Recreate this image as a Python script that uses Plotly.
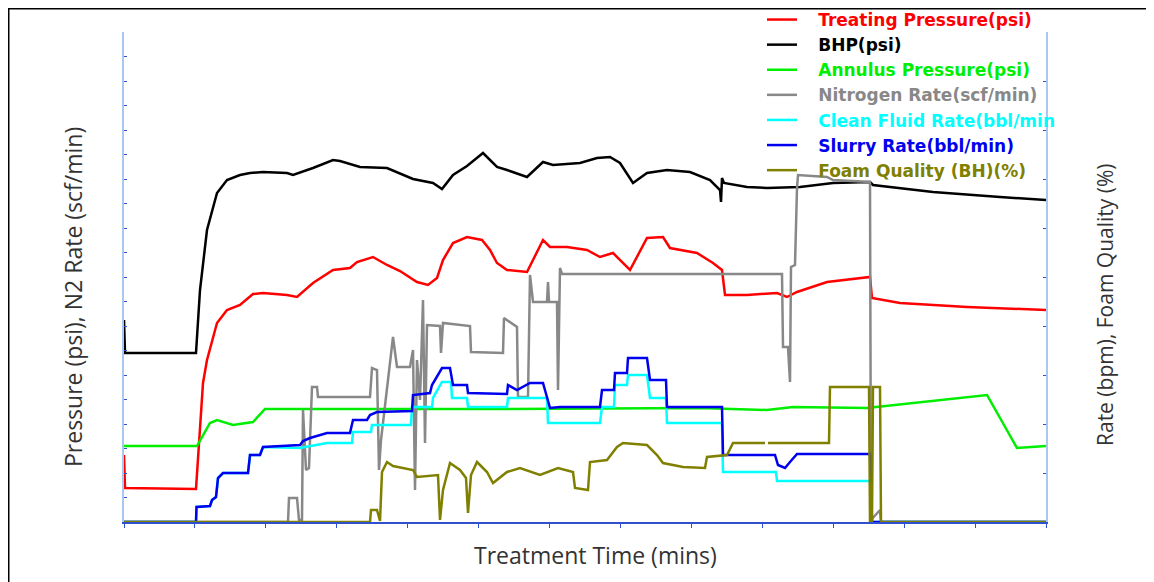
import plotly.graph_objects as go

# ---- time axis (minutes) ----
bhp_t = [0, 0.1, 7.2, 7.6, 8.3, 9.3, 10.3, 11.6, 12.6, 13.9, 16.3, 16.9, 18.9, 20.9, 21.6, 23.6, 26.3, 28.9, 30.9, 31.8,
         32.9, 34.3, 35.9, 36.6, 37.3, 38.3, 40.3, 41.9, 42.9, 45.6, 47.3, 48.6, 49.6, 50.9, 52.3, 54.3, 56.6, 58.6,
         59.6, 59.7, 59.8, 60.0, 62.3, 64.3, 67.6, 70.9, 74.6, 74.9, 80.9, 87.6, 92.2]
bhp_p = [2020, 1690, 1690, 2320, 2920, 3290, 3420, 3470, 3490, 3500, 3490, 3470, 3540, 3620, 3610, 3550, 3540, 3430, 3390, 3330,
         3470, 3560, 3690, 3620, 3550, 3520, 3450, 3600, 3570, 3590, 3640, 3650, 3590, 3390, 3490, 3520, 3500, 3420,
         3320, 3200, 3440, 3390, 3350, 3340, 3350, 3390, 3400, 3370, 3300, 3250, 3220]

tp_t = [0, 0.1, 7.2, 7.4, 7.9, 8.3, 9.3, 10.3, 11.6, 12.9, 13.9, 16.3, 17.3, 18.9, 20.9, 22.6, 23.3, 24.9, 26.3, 27.6,
        29.3, 30.4, 31.3, 31.9, 32.9, 34.3, 35.8, 36.6, 37.3, 38.3, 40.3, 41.9, 42.6, 44.3, 46.3, 47.6, 48.9, 50.6,
        52.3, 53.9, 54.6, 57.3, 58.9, 59.8, 60.1, 62.3, 65.3, 66.3, 67.3, 70.3, 74.6, 74.8, 77.6, 84.3, 92.2]
tp_p = [670, 340, 330, 650, 1390, 1620, 1990, 2120, 2170, 2280, 2290, 2270, 2250, 2390, 2520, 2540, 2600, 2650, 2570, 2510,
        2400, 2370, 2440, 2620, 2790, 2850, 2820, 2720, 2590, 2520, 2500, 2820, 2750, 2750, 2720, 2650, 2690, 2520,
        2840, 2850, 2740, 2690, 2590, 2520, 2270, 2270, 2290, 2250, 2300, 2400, 2450, 2240, 2190, 2150, 2120]

ann_t = [0, 7.3, 8.6, 9.3, 10.9, 12.9, 14.1, 37.6, 57.6, 64.3, 66.9, 74.3, 86.3, 89.3, 92.2]
ann_p = [760, 760, 990, 1020, 970, 1000, 1130, 1130, 1140, 1120, 1150, 1140, 1270, 740, 760]

n2_t = [0, 16.4, 16.5, 17.3, 17.5, 17.8, 17.9, 18.2, 18.5, 18.8, 19.3, 19.4, 24.6, 24.8, 25.3, 25.5, 25.7, 26.9,
        27.3, 28.6, 28.9, 29.1, 29.3, 29.6, 29.9, 30.1, 30.3, 31.6, 31.7, 31.9, 34.6, 34.7, 37.9, 38.0, 39.3, 39.4,
        40.4, 40.6, 40.9, 42.3, 42.4, 42.5, 43.3, 43.4, 43.6, 43.8, 65.8, 65.9, 66.4, 66.6, 66.7, 67.1, 67.3, 67.4,
        70.3, 70.9, 74.6, 74.7, 75.6, 75.7, 92.2]
n2_r = [0, 0, 240, 240, 20, 20, 1120, 520, 540, 1350, 1350, 1250, 1250, 1540, 1520, 520, 820, 1850,
        1550, 1550, 1720, 320, 1620, 1220, 2220, 790, 1970, 1960, 1690, 1990, 1960, 1700, 1690, 2040, 1950, 1250,
        1250, 2470, 2200, 2200, 2400, 2200, 2200, 1320, 2540, 2480, 2480, 1750, 1750, 1400, 2550, 2570, 3340, 3470,
        3450, 3420, 3400, 20, 120, 0, 0]

clean_t = [0, 7.2, 7.25, 8.6, 8.8, 9.2, 9.4, 9.9, 12.4, 12.6, 13.6, 13.9, 17.6, 20.3, 22.8, 22.9, 24.7, 24.8, 28.7,
           28.8, 30.8, 30.9, 31.8, 32.7, 32.8, 34.3, 34.4, 38.3, 38.4, 42.3, 42.4, 47.6, 47.8, 49.0, 49.1, 50.3,
           50.4, 52.3, 52.6, 54.2, 54.3, 59.8, 59.9, 65.2, 65.3, 74.6, 74.8, 92.2]
clean_r = [0, 0, 3.0, 3.2, 4.4, 5.0, 8.8, 9.8, 9.8, 13.4, 13.4, 15.0, 14.8, 15.8, 15.8, 18.0, 18.0, 19.4, 19.4,
           23.0, 23.0, 24.8, 28.0, 28.0, 24.8, 24.8, 23.0, 23.0, 24.8, 24.8, 19.8, 19.8, 23.0, 23.0, 27.4, 27.4,
           29.4, 29.4, 24.8, 24.8, 19.8, 19.8, 10.0, 10.0, 8.2, 8.2, 0, 0]

slurry_t = [0, 7.2, 7.25, 8.6, 8.8, 9.2, 9.4, 9.9, 12.4, 12.6, 13.6, 13.9, 17.6, 17.9, 18.6, 20.3, 22.6, 22.9, 24.3,
            24.6, 25.3, 28.8, 28.9, 30.6, 30.8, 31.8, 32.6, 32.9, 34.3, 34.4, 38.3, 38.4, 39.3, 40.6, 41.9, 42.6,
            43.6, 47.6, 47.8, 49.0, 49.1, 50.3, 50.4, 52.3, 52.6, 54.2, 54.3, 59.8, 59.9, 65.1, 65.4, 66.1, 66.6,
            67.3, 74.6, 74.8, 92.2]
slurry_r = [0, 0, 3.0, 3.2, 4.4, 5.0, 8.8, 9.8, 9.8, 13.4, 13.4, 15.0, 15.4, 16.2, 16.8, 17.8, 17.8, 20.4, 20.4,
            21.4, 22.0, 22.2, 25.4, 25.8, 27.4, 30.8, 30.8, 27.4, 27.4, 25.8, 25.6, 27.4, 26.4, 27.8, 27.8, 22.8,
            23.0, 23.0, 26.4, 26.4, 29.8, 29.8, 32.8, 32.8, 28.4, 28.4, 23.0, 23.0, 13.4, 13.4, 11.4, 10.8, 12.0,
            13.6, 13.6, 0, 0]

foam_t = [0, 24.6, 24.7, 25.3, 25.6, 25.8, 26.3, 26.9, 28.9, 29.3, 31.4, 31.6, 31.9, 32.6, 33.6, 34.2, 34.4, 34.7,
          35.3, 36.3, 36.9, 38.3, 39.6, 41.6, 43.4, 44.9, 45.1, 46.4, 46.6, 48.3, 49.3, 49.9, 52.3, 53.3, 53.9,
          55.9, 58.1, 58.3, 60.3, 60.9, 64.1, 64.25, 64.4, 70.5, 70.6, 74.5, 74.6, 74.8, 74.9, 75.6, 75.7, 92.2]
foam_q = [0, 0, 2.4, 2.4, 0.2, 10.0, 12.0, 11.2, 10.4, 9.0, 9.4, 0.4, 6.4, 11.8, 10.4, 8.8, 1.8, 9.4,
          12.0, 10.0, 7.8, 10.0, 10.8, 9.4, 10.8, 10.0, 6.8, 6.4, 12.0, 12.4, 15.0, 15.8, 15.4, 13.4, 11.8,
          11.0, 10.8, 13.0, 13.4, 15.8, 15.8, None, 15.8, 15.8, 27.0, 27.0, 0, 0, 27.0, 27.0, 0, 0]

names = ["Treating Pressure(psi)", "BHP(psi)", "Annulus Pressure(psi)", "Nitrogen Rate(scf/min)",
         "Clean Fluid Rate(bbl/min", "Slurry Rate(bbl/min)", "Foam Quality (BH)(%)"]
colors = ["#ff0000", "#000000", "#00ee00", "#888888", "#00ffff", "#0000ee", "#808000"]

def lab(n, c):
    return "&nbsp;&nbsp;&nbsp;<b><span style='color:%s'>%s</span></b>" % (c, n)

fig = go.Figure()
W = 2.5
fig.add_trace(go.Scatter(x=tp_t, y=tp_p, mode="lines", line=dict(color=colors[0], width=W),
                         name=lab(names[0], colors[0]), legendrank=1))
fig.add_trace(go.Scatter(x=bhp_t, y=bhp_p, mode="lines", line=dict(color=colors[1], width=W),
                         name=lab(names[1], colors[1]), legendrank=2))
fig.add_trace(go.Scatter(x=ann_t, y=ann_p, mode="lines", line=dict(color=colors[2], width=W),
                         name=lab(names[2], colors[2]), legendrank=3))
fig.add_trace(go.Scatter(x=clean_t, y=clean_r, mode="lines", line=dict(color=colors[4], width=W), yaxis="y2",
                         name=lab(names[4], colors[4]), legendrank=5))
fig.add_trace(go.Scatter(x=slurry_t, y=slurry_r, mode="lines", line=dict(color=colors[5], width=W), yaxis="y2",
                         name=lab(names[5], colors[5]), legendrank=6))
fig.add_trace(go.Scatter(x=n2_t, y=n2_r, mode="lines", line=dict(color=colors[3], width=W),
                         name=lab(names[3], colors[3]), legendrank=4))
fig.add_trace(go.Scatter(x=foam_t, y=foam_q, mode="lines", line=dict(color=colors[6], width=W), yaxis="y2",
                         name=lab(names[6], colors[6]), legendrank=7, connectgaps=False))

# screen layout (page body has an 8px margin)
OFF = 8
SW, SH = 1154, 582
L, R, T, B = 124, 1046, 32, 522
pw, ph = R - L, B - T
def px(x): return (x - L) / pw
def py(y): return (B - y) / ph

axis_font = dict(family="Open Sans, sans-serif", size=23, color="#333333")
right_font = dict(family="Open Sans, sans-serif", size=21, color="#333333")
fig.update_layout(
    width=SW - OFF, height=SH - OFF,
    margin=dict(l=L - OFF, r=SW - R, t=T - OFF, b=SH - B, autoexpand=False),
    paper_bgcolor="white", plot_bgcolor="white",
    showlegend=True,
    legend=dict(x=px(762), y=py(2), xanchor="left", yanchor="top", bgcolor="rgba(0,0,0,0)",
                font=dict(family="DejaVu Sans, sans-serif", size=17), tracegroupgap=0,
                itemwidth=30),
    xaxis=dict(range=[0, 92.2], showgrid=False, zeroline=False, showticklabels=False,
               ticks="outside", tick0=0, dtick=92.2 / 13, ticklen=4, tickcolor="#3050d0", tickwidth=1,
               showline=True, linecolor="#3050d0", linewidth=2),
    yaxis=dict(range=[0, 4900], showgrid=False, zeroline=False, showticklabels=False,
               ticks="inside", tick0=0, dtick=245, ticklen=3, tickcolor="#3050d0", tickwidth=1,
               showline=True, linecolor="#a8c8f0", linewidth=2),
    yaxis2=dict(range=[0, 98], overlaying="y", side="right", showgrid=False, zeroline=False,
                showticklabels=False, ticks="inside", tick0=0, dtick=9.8, ticklen=3, tickcolor="#3050d0",
                tickwidth=1, showline=True, linecolor="#a8c8f0", linewidth=2),
    annotations=[
        dict(text="Pressure (psi), N2 Rate (scf/min)", x=px(73), y=py(297), xref="paper", yref="paper",
             xanchor="center", yanchor="middle", textangle=-90, showarrow=False, font=axis_font),
        dict(text="Rate (bpm), Foam Quality (%)", x=px(1105), y=py(305), xref="paper", yref="paper",
             xanchor="center", yanchor="middle", textangle=-90, showarrow=False, font=right_font),
        dict(text="Treatment Time (mins)", x=px(595), y=py(555), xref="paper", yref="paper",
             xanchor="center", yanchor="middle", showarrow=False, font=axis_font),
    ],
    shapes=[
        dict(type="line", xref="paper", yref="paper", x0=px(OFF), x1=px(OFF), y0=py(OFF), y1=py(600),
             line=dict(color="black", width=3)),
        dict(type="line", xref="paper", yref="paper", x0=px(OFF), x1=px(1170), y0=py(OFF), y1=py(OFF),
             line=dict(color="black", width=3)),
    ],
)

fig.write_html("out.html")
